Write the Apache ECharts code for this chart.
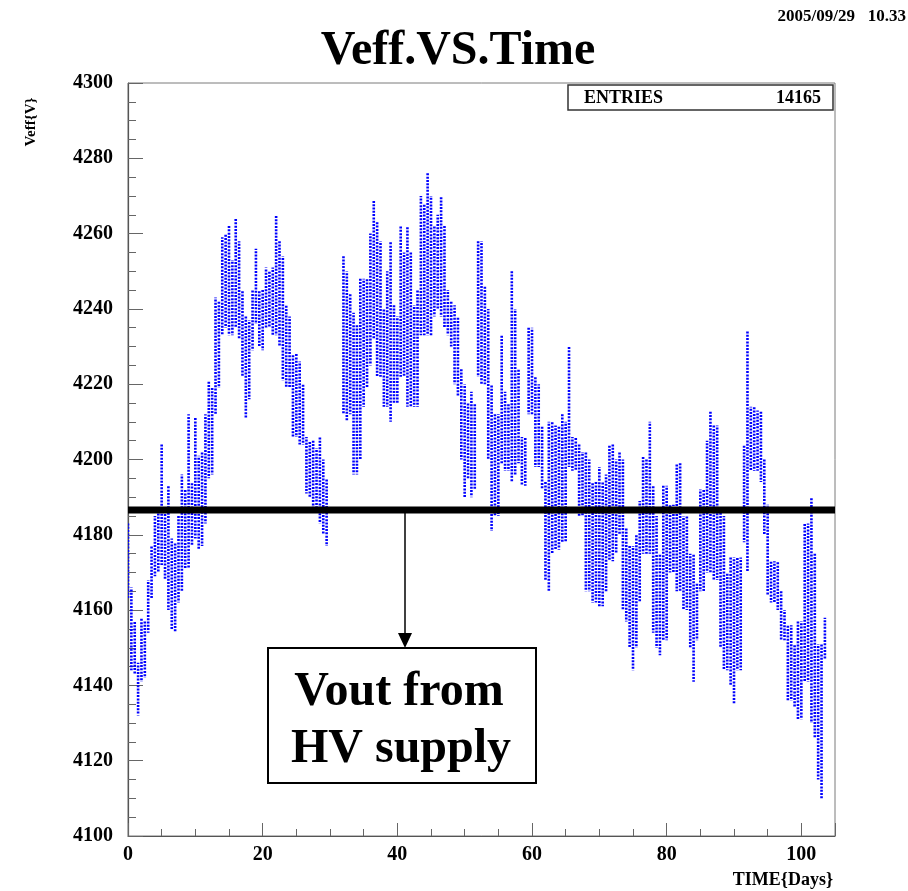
<!DOCTYPE html>
<html>
<head>
<meta charset="utf-8">
<script src="https://cdn.jsdelivr.net/npm/echarts@6/dist/echarts.min.js"></script>
<style>
html, body { margin: 0; padding: 0; background: #fff; }
#chart { width: 908px; height: 891px; }
</style>
</head>
<body>
<div id="chart"></div>
<script>
// Effective voltage readings, grouped in half-day slices: lowest and highest value seen in each slice
const days = [
  0, 0.5, 1, 1.5, 2, 2.5, 3, 3.5, 4, 4.5, 5, 5.5, 6, 6.5, 7, 7.5, 8, 8.5, 9, 9.5,
  10, 10.5, 11, 11.5, 12, 12.5, 13, 13.5, 14, 14.5, 15, 15.5, 16, 16.5, 17, 17.5, 18, 18.5, 19, 19.5,
  20, 20.5, 21, 21.5, 22, 22.5, 23, 23.5, 24, 24.5, 25, 25.5, 26, 26.5, 27, 27.5, 28, 28.5, 29, 29.5,
  32, 32.5, 33, 33.5, 34, 34.5, 35, 35.5, 36, 36.5, 37, 37.5, 38, 38.5, 39, 39.5,
  40, 40.5, 41, 41.5, 42, 42.5, 43, 43.5, 44, 44.5, 45, 45.5, 46, 46.5, 47, 47.5, 48, 48.5, 49, 49.5,
  50, 50.5, 51, 51.5, 52, 52.5, 53, 53.5, 54, 54.5, 55, 55.5, 56, 56.5, 57, 57.5, 58, 58.5, 59, 59.5,
  60, 60.5, 61, 61.5, 62, 62.5, 63, 63.5, 64, 64.5, 65, 65.5, 66, 66.5, 67, 67.5, 68, 68.5, 69, 69.5,
  70, 70.5, 71, 71.5, 72, 72.5, 73, 73.5, 74, 74.5, 75, 75.5, 76, 76.5, 77, 77.5, 78, 78.5, 79, 79.5,
  80, 80.5, 81, 81.5, 82, 82.5, 83, 83.5, 84, 84.5, 85, 85.5, 86, 86.5, 87, 87.5, 88, 88.5, 89, 89.5,
  90, 90.5, 91, 91.5, 92, 92.5, 93, 93.5, 94, 94.5, 95, 95.5, 96, 96.5, 97, 97.5, 98, 98.5, 99, 99.5,
  100, 100.5, 101, 101.5, 102, 102.5, 103, 103.5
];
const vLow = [
  4163, 4144, 4143, 4132, 4141, 4142, 4154, 4163, 4169, 4170, 4172, 4168, 4160, 4155, 4154, 4162, 4165, 4171, 4171, 4177,
  4179, 4176, 4177, 4183, 4195, 4196, 4212, 4219, 4233, 4235, 4233, 4233, 4235, 4232, 4222, 4211, 4216, 4229, 4236, 4230,
  4229, 4235, 4235, 4233, 4233, 4230, 4221, 4219, 4219, 4206, 4206, 4204, 4204, 4191, 4190, 4186, 4186, 4183, 4180, 4177,
  4212, 4210, 4212, 4196, 4196, 4200, 4214, 4219, 4225, 4232, 4222, 4222, 4214, 4214, 4210, 4215,
  4215, 4222, 4222, 4214, 4214, 4214, 4214, 4233, 4233, 4233, 4233, 4238, 4240, 4238, 4235, 4233, 4230, 4220, 4217, 4200,
  4190, 4195, 4190, 4192, 4222, 4220, 4220, 4200, 4181, 4185, 4185, 4199, 4197, 4197, 4194, 4196, 4199, 4193, 4193, 4212,
  4212, 4198, 4198, 4192, 4168, 4165, 4175, 4176, 4176, 4178, 4178, 4198, 4197, 4197, 4185, 4185, 4165, 4165, 4162, 4162,
  4161, 4161, 4165, 4173, 4173, 4175, 4180, 4160, 4157, 4150, 4144, 4150, 4162, 4175, 4175, 4175, 4154, 4150, 4148, 4152,
  4152, 4170, 4170, 4165, 4165, 4160, 4160, 4150, 4141, 4152, 4165, 4165, 4170, 4170, 4168, 4168, 4150, 4144, 4144, 4140,
  4135, 4144, 4144, 4178, 4170, 4197, 4197, 4197, 4194, 4180, 4164, 4162, 4162, 4160, 4152, 4152, 4136, 4136, 4134, 4131,
  4131, 4141, 4141, 4130, 4126, 4115, 4110, 4147
];
const vHigh = [
  4183, 4166, 4157, 4146, 4158, 4157, 4168, 4177, 4185, 4186, 4204, 4186, 4193, 4179, 4178, 4185, 4196, 4192, 4212, 4194,
  4211, 4201, 4202, 4212, 4221, 4219, 4243, 4242, 4259, 4260, 4262, 4253, 4264, 4258, 4245, 4238, 4237, 4245, 4256, 4245,
  4245, 4251, 4250, 4251, 4265, 4258, 4254, 4241, 4238, 4228, 4228, 4226, 4220, 4206, 4205, 4205, 4203, 4206, 4200, 4195,
  4254, 4250, 4244, 4239, 4236, 4248, 4248, 4248, 4260, 4269, 4263, 4258, 4240, 4250, 4258, 4241,
  4238, 4262, 4255, 4262, 4255, 4241, 4245, 4270, 4268, 4276, 4270, 4262, 4265, 4270, 4262, 4245, 4242, 4241, 4238, 4224,
  4220, 4215, 4218, 4215, 4258, 4258, 4246, 4240, 4220, 4212, 4212, 4233, 4218, 4215, 4250, 4240, 4224, 4206, 4206, 4235,
  4235, 4222, 4220, 4209, 4194, 4210, 4210, 4209, 4209, 4212, 4210, 4230, 4206, 4206, 4204, 4202, 4202, 4200, 4194, 4194,
  4198, 4194, 4196, 4204, 4204, 4200, 4202, 4200, 4182, 4177, 4177, 4180, 4189, 4201, 4200, 4210, 4193, 4185, 4175, 4193,
  4193, 4188, 4188, 4199, 4199, 4185, 4185, 4175, 4175, 4167, 4192, 4192, 4205, 4213, 4209, 4209, 4186, 4185, 4170, 4174,
  4174, 4174, 4174, 4204, 4234, 4214, 4214, 4213, 4213, 4200, 4188, 4173, 4173, 4173, 4165, 4160, 4156, 4156, 4151, 4157,
  4157, 4183, 4183, 4190, 4175, 4151, 4151, 4158
];
// Output level of the HV supply
const hvLevel = 4186.6;
const timeRange = [0, 105];
const voltRange = [4100, 4300];
const entries = 14165;

const serif = '"Liberation Serif", "Times New Roman", Times, serif';
const chart = echarts.init(document.getElementById('chart'));

const slices = days.map((d, i) => [d, vLow[i], vHigh[i]]);

chart.setOption({
  animation: false,
  backgroundColor: '#ffffff',
  grid: {
    left: 128, top: 83, width: 707, height: 753,
    show: true, borderColor: '#7a7a7a', borderWidth: 1, backgroundColor: 'transparent'
  },
  xAxis: {
    type: 'value', min: timeRange[0], max: timeRange[1], interval: 20,
    axisLine: { lineStyle: { color: '#555', width: 1.2 } },
    axisTick: { inside: true, length: 13, lineStyle: { color: '#666' } },
    minorTick: { show: true, splitNumber: 4, length: 7, lineStyle: { color: '#666' } },
    splitLine: { show: false },
    axisLabel: {
      margin: 9, color: '#000', fontFamily: serif, fontWeight: 'bold', fontSize: 20,
      formatter: v => (v % 20 === 0 ? String(v) : '')
    }
  },
  yAxis: {
    type: 'value', min: voltRange[0], max: voltRange[1], interval: 20,
    axisLine: { show: true, lineStyle: { color: '#555', width: 1.2 } },
    axisTick: { show: true, inside: true, length: 15, lineStyle: { color: '#666' } },
    minorTick: { show: true, splitNumber: 4, length: 8, lineStyle: { color: '#666' } },
    splitLine: { show: false },
    axisLabel: {
      margin: 15, color: '#000', fontFamily: serif, fontWeight: 'bold', fontSize: 20,
      formatter: v => String(v)
    }
  },
  series: [
    {
      type: 'custom',
      data: slices,
      encode: { x: 0, y: [1, 2] },
      clip: true,
      z: 2,
      renderItem: function (params, api) {
        const top = api.coord([api.value(0), api.value(2)]);
        const bottom = api.coord([api.value(0), api.value(1)]);
        // stagger the dotted pattern from one slice to the next
        const shift = ((params.dataIndex * 7) % 5) * 0.7;
        return {
          type: 'line',
          shape: { x1: top[0], y1: top[1], x2: bottom[0], y2: bottom[1] },
          style: {
            stroke: '#0000ff', lineWidth: 2.6,
            lineDash: [2, 1.3], lineDashOffset: shift
          }
        };
      }
    },
    {
      type: 'line',
      data: [[timeRange[0], hvLevel], [timeRange[1], hvLevel]],
      symbol: 'none',
      lineStyle: { color: '#000', width: 7 },
      z: 3
    }
  ],
  graphic: [
    {
      type: 'text', x: 458, y: 52, z: 10,
      style: { text: 'Veff.VS.Time', font: 'bold 48px ' + serif, fill: '#000', align: 'center', verticalAlign: 'middle' }
    },
    {
      type: 'text', x: 906, y: 17, z: 10,
      style: { text: '2005/09/29   10.33', font: 'bold 17px ' + serif, fill: '#000', align: 'right', verticalAlign: 'middle' }
    },
    {
      type: 'rect', z: 10,
      shape: { x: 568, y: 85, width: 265, height: 25 },
      style: { fill: '#fff', stroke: '#333', lineWidth: 1.5 }
    },
    {
      type: 'text', x: 584, y: 98, z: 11,
      style: { text: 'ENTRIES', font: 'bold 18px ' + serif, fill: '#000', align: 'left', verticalAlign: 'middle' }
    },
    {
      type: 'text', x: 821, y: 98, z: 11,
      style: { text: String(entries), font: 'bold 18px ' + serif, fill: '#000', align: 'right', verticalAlign: 'middle' }
    },
    {
      type: 'text', x: 31, y: 122, rotation: Math.PI / 2, z: 10,
      style: { text: 'Veff{V}', font: 'bold 15px ' + serif, fill: '#000', align: 'center', verticalAlign: 'middle' }
    },
    {
      type: 'text', x: 833, y: 880, z: 10,
      style: { text: 'TIME{Days}', font: 'bold 18px ' + serif, fill: '#000', align: 'right', verticalAlign: 'middle' }
    },
    {
      type: 'line', z: 10,
      shape: { x1: 405, y1: 512, x2: 405, y2: 636 },
      style: { stroke: '#000', lineWidth: 1.5 }
    },
    {
      type: 'polygon', z: 10,
      shape: { points: [[398, 633], [412, 633], [405, 648]] },
      style: { fill: '#000' }
    },
    {
      type: 'rect', z: 10,
      shape: { x: 268, y: 648, width: 268, height: 135 },
      style: { fill: '#fff', stroke: '#000', lineWidth: 2 }
    },
    {
      type: 'text', x: 399, y: 693, z: 11,
      style: { text: 'Vout from', font: 'bold 48px ' + serif, fill: '#000', align: 'center', verticalAlign: 'middle' }
    },
    {
      type: 'text', x: 401, y: 750, z: 11,
      style: { text: 'HV supply', font: 'bold 48px ' + serif, fill: '#000', align: 'center', verticalAlign: 'middle' }
    }
  ]
});
</script>
</body>
</html>
